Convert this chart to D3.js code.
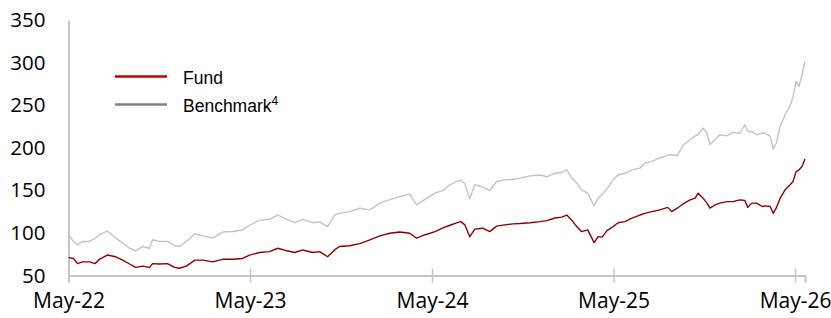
<!DOCTYPE html>
<html>
<head>
<meta charset="utf-8">
<script src="https://cdn.jsdelivr.net/npm/d3@7"></script>
<style>
  body { margin: 0; background: #fff; }
  svg { display: block; }
</style>
</head>
<body>
<svg id="chart"></svg>
<script>
// dates, both series read at the same dates
const dates = [
  '2022-05-01','2022-05-11','2022-05-19','2022-05-29','2022-06-12','2022-06-24','2022-07-02','2022-07-18',
  '2022-08-04','2022-08-18','2022-09-01','2022-09-13','2022-09-27','2022-10-11','2022-10-17','2022-10-31',
  '2022-11-16','2022-11-30','2022-12-10','2022-12-24','2023-01-10','2023-01-26','2023-02-15','2023-03-07',
  '2023-03-27','2023-04-16','2023-04-30','2023-05-20','2023-06-09','2023-06-26','2023-07-14','2023-07-30',
  '2023-08-15','2023-09-04','2023-09-18','2023-10-04','2023-10-18','2023-10-28','2023-11-17','2023-12-08',
  '2023-12-28','2024-01-17','2024-02-06','2024-02-26','2024-03-17','2024-03-31','2024-04-16','2024-05-07',
  '2024-05-23','2024-06-06','2024-06-18','2024-06-28','2024-07-06','2024-07-16','2024-07-26','2024-08-11',
  '2024-08-25','2024-09-08','2024-09-24','2024-10-11','2024-10-25','2024-11-14','2024-12-04','2024-12-18',
  '2025-01-03','2025-01-17','2025-01-27','2025-02-06','2025-02-16','2025-02-26','2025-03-10','2025-03-23',
  '2025-03-31','2025-04-08','2025-04-18','2025-04-30','2025-05-10','2025-05-24','2025-06-07','2025-06-23',
  '2025-07-03','2025-07-17','2025-08-02','2025-08-18','2025-08-26','2025-09-06','2025-09-18','2025-10-02',
  '2025-10-12','2025-10-18','2025-10-28','2025-11-05','2025-11-11','2025-11-21','2025-12-01','2025-12-15',
  '2025-12-27','2026-01-10','2026-01-20','2026-01-26','2026-02-03','2026-02-13','2026-02-24','2026-03-02',
  '2026-03-12','2026-03-18','2026-03-24','2026-04-01','2026-04-11','2026-04-21','2026-04-27','2026-05-03',
  '2026-05-09','2026-05-15','2026-05-21'
];

const fund = [
  71, 70, 64, 66, 66, 64, 69, 74,
  72, 68, 63.5, 59.6, 61, 59.6, 64, 63.5,
  64, 59.6, 58.5, 61, 68, 68, 66, 69,
  69, 70, 74, 77, 78, 82, 79, 77,
  80, 77, 78, 72, 80, 84, 85, 87.5,
  91.8, 96.5, 99.6, 101, 99.6, 93.8, 97.6, 101.5,
  106, 109, 111.4, 113.3, 109.4, 95.6, 104.4, 105.5,
  101.5, 108, 109.4, 110.6, 111, 112, 113.3, 114.5,
  117.5, 118.5, 121, 115, 107.4, 101.5, 103.5, 88.6,
  95.6, 95, 102.7, 107.4, 112, 113.3, 117.3, 121,
  123, 125, 127, 130, 125, 129, 134, 138.8,
  140.8, 146.7, 140.8, 135, 129, 133, 135, 136.8,
  136.8, 138.8, 138, 130, 135, 135, 131, 131.8,
  131, 123, 129, 140.8, 150.6, 156.5, 160.4, 172,
  174, 178, 186.7
];

const benchmark = [
  98, 90, 86, 90, 90, 94, 97.6, 102,
  94, 88, 82, 79, 84, 82, 92, 90,
  90, 85, 84, 90, 99, 96.5, 94, 101,
  101.6, 103.5, 109, 115, 116, 121, 116, 112,
  116, 112, 113, 107.4, 121, 123, 125, 129,
  127, 135, 139, 142.7, 145.5, 133, 139, 146.7,
  150, 156.5, 160, 162, 157.6, 140, 156.5, 153.8,
  150, 160.4, 162.3, 163, 164.3, 167, 168, 166,
  170, 171, 174, 164.3, 158.5, 150.6, 146.7, 131.8,
  140.8, 145, 152, 162, 168, 170, 174, 176,
  182, 184, 188, 191, 191.8, 190.6, 203, 209.4,
  214, 215.3, 223, 217, 203.5, 209.4, 215.3, 214,
  218, 217, 227, 219, 219, 215.3, 217, 217,
  213.3, 199, 205, 225, 238.8, 249, 260, 278,
  272, 286, 301.5
];

const yTicks = [50, 100, 150, 200, 250, 300, 350];
const xTicks = ['2022-05-01', '2023-05-01', '2024-05-01', '2025-05-01', '2026-05-01'];
const series = [
  { name: 'Fund', values: fund, color: '#8e0000', legendColor: '#c00000' },
  { name: 'Benchmark', sup: '4', values: benchmark, color: '#c3c3c3', legendColor: '#808080' }
];

const width = 831, height = 318;
const parse = d3.timeParse('%Y-%m-%d');
const fmt = d3.timeFormat('%b-%y');

const svg = d3.select('#chart')
  .attr('width', width)
  .attr('height', height);

const x = d3.scaleTime()
  .domain([parse('2022-05-01'), parse('2026-05-21')])
  .range([68.5, 805]);

const y = d3.scaleLinear()
  .domain([50, 350])
  .range([275.5, 20]);

// y axis - only labels and the gray spine
const yAxis = svg.append('g')
  .attr('transform', 'translate(68.5,0)')
  .call(d3.axisLeft(y).tickValues(yTicks).tickSize(0).tickPadding(23));
yAxis.select('.domain').attr('stroke', '#c4c4c4').attr('stroke-width', 2);
yAxis.selectAll('text')
  .attr('font-family', '"Open Sans", sans-serif')
  .attr('font-size', 20.5)
  .attr('fill', '#000');

// x axis, ticks cross the line
const xAxis = svg.append('g')
  .attr('transform', 'translate(0,275.5)')
  .call(d3.axisBottom(x).tickValues(xTicks.map(parse)).tickFormat(fmt).tickSize(7).tickPadding(11));
xAxis.select('.domain').attr('stroke', '#c4c4c4').attr('stroke-width', 2);
xAxis.selectAll('.tick line')
  .attr('y1', -7)
  .attr('y2', 7)
  .attr('stroke', '#c4c4c4')
  .attr('stroke-width', 1.5);
xAxis.selectAll('text')
  .attr('font-family', '"Open Sans", sans-serif')
  .attr('font-size', 21)
  .attr('fill', '#000');

const line = d3.line()
  .x((d, i) => x(parse(dates[i])))
  .y(d => y(d));

// benchmark first so fund sits on top
svg.selectAll('path.series')
  .data(series.slice().reverse())
  .enter()
  .append('path')
  .attr('class', 'series')
  .attr('fill', 'none')
  .attr('stroke', d => d.color)
  .attr('stroke-width', 1.4)
  .attr('stroke-linejoin', 'round')
  .attr('d', d => line(d.values));

// legend
const legend = svg.append('g');
series.forEach((s, i) => {
  const ly = 76.5 + i * 28;
  legend.append('line')
    .attr('x1', 115).attr('x2', 167)
    .attr('y1', ly).attr('y2', ly)
    .attr('stroke', s.legendColor)
    .attr('stroke-width', 2.5);
  const t = legend.append('text')
    .attr('x', 183)
    .attr('y', ly + 7)
    .attr('font-family', '"Liberation Sans", Arial, sans-serif')
    .attr('font-size', 17.5)
    .attr('fill', '#000')
    .text(s.name);
  if (s.sup) {
    t.append('tspan')
      .attr('dy', -7)
      .attr('font-size', 12)
      .text(s.sup);
  }
});
</script>
</body>
</html>
